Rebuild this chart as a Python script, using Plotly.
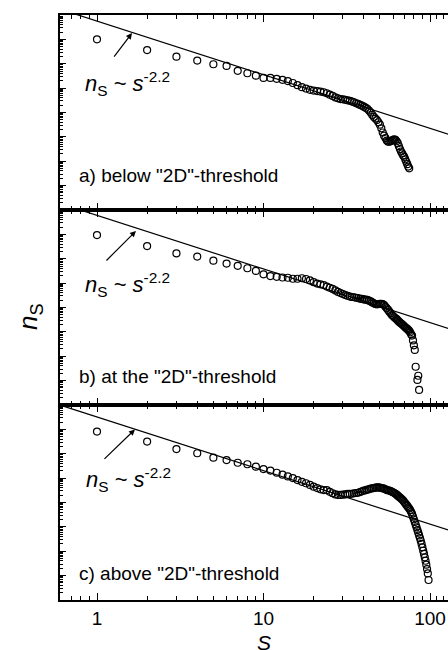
import plotly.graph_objects as go
from plotly.subplots import make_subplots

# ---------------- data (cluster size s, log10 of n_s) ----------------
s_a = [1, 2, 3, 4, 5, 6, 7, 8, 9, 10, 11, 12, 13, 14, 15, 16, 17, 18, 19, 20,
       21, 22, 23, 24, 25, 26, 27, 28, 29, 30, 31, 32, 33, 34, 35, 36, 37, 38, 39, 40,
       41, 42, 43, 44, 45, 46, 47, 48, 49, 50, 51, 52, 53, 54, 55, 56, 57, 58, 59, 60,
       61, 62, 63, 64, 65, 66, 67, 68, 69, 70, 71, 72, 73, 74, 75]
logn_a = [-1.00, -1.44, -1.71, -1.87, -2.02, -2.09, -2.29, -2.39, -2.49, -2.58,
          -2.58, -2.62, -2.66, -2.71, -2.79, -2.88, -2.96, -3.02, -3.07, -3.10,
          -3.12, -3.14, -3.17, -3.21, -3.27, -3.32, -3.38, -3.42, -3.45, -3.46,
          -3.48, -3.50, -3.52, -3.55, -3.58, -3.62, -3.65, -3.69, -3.72, -3.76,
          -3.80, -3.85, -3.92, -4.00, -4.10, -4.18, -4.25, -4.31, -4.40, -4.50,
          -4.65, -4.82, -4.95, -5.05, -5.15, -5.20, -5.20, -5.18, -5.15, -5.12,
          -5.10, -5.12, -5.18, -5.26, -5.38, -5.50, -5.60, -5.68, -5.76, -5.82,
          -5.92, -6.02, -6.12, -6.22, -6.29]

s_b = [1, 2, 3, 4, 5, 6, 7, 8, 9, 10, 11, 12, 13, 14, 15, 16, 17, 18, 19, 20,
       21, 22, 23, 24, 25, 26, 27, 28, 29, 30, 31, 32, 33, 34, 35, 36, 37, 38, 39, 40,
       41, 42, 43, 44, 45, 46, 47, 48, 49, 50, 51, 52, 53, 54, 55, 56, 57, 58, 59, 60,
       61, 62, 63, 64, 65, 66, 67, 68, 69, 70, 71, 72, 73, 74, 75, 76, 77, 78, 79, 80,
       81, 82, 84, 85, 86]
logn_b = [-1.03, -1.48, -1.78, -1.91, -2.08, -2.20, -2.29, -2.39, -2.50, -2.64,
          -2.71, -2.74, -2.77, -2.78, -2.82, -2.82, -2.80, -2.83, -2.89, -2.96,
          -3.02, -3.05, -3.08, -3.14, -3.19, -3.24, -3.30, -3.36, -3.41, -3.45,
          -3.49, -3.52, -3.55, -3.57, -3.58, -3.60, -3.61, -3.64, -3.65, -3.67,
          -3.68, -3.69, -3.72, -3.75, -3.79, -3.83, -3.86, -3.87, -3.86, -3.85,
          -3.85, -3.86, -3.90, -3.97, -4.03, -4.10, -4.17, -4.24, -4.31, -4.35,
          -4.40, -4.44, -4.48, -4.53, -4.58, -4.62, -4.66, -4.69, -4.73, -4.77,
          -4.81, -4.85, -4.88, -4.92, -4.96, -5.02, -5.10, -5.15, -5.35, -5.55,
          -5.74, -6.43, -6.97, -6.80, -7.38]

s_c = [1, 2, 3, 4, 5, 6, 7, 8, 9, 10, 11, 12, 13, 14, 15, 16, 17, 18, 19, 20,
       21, 22, 23, 24, 25, 26, 27, 28, 29, 30, 31, 32, 33, 34, 35, 36, 37, 38, 39, 40,
       41, 42, 43, 44, 45, 46, 47, 48, 49, 50, 51, 52, 53, 54, 55, 56, 57, 58, 59, 60,
       61, 62, 63, 64, 65, 66, 67, 68, 69, 70, 71, 72, 73, 74, 75, 76, 77, 78, 79, 80,
       81, 82, 83, 84, 85, 86, 87, 88, 89, 90, 91, 92, 93, 94, 95, 96, 97, 98]
logn_c = [-1.09, -1.50, -1.81, -1.98, -2.16, -2.26, -2.37, -2.43, -2.53, -2.63,
          -2.69, -2.78, -2.86, -2.93, -3.00, -3.08, -3.15, -3.21, -3.28, -3.35,
          -3.41, -3.46, -3.49, -3.49, -3.56, -3.62, -3.67, -3.69, -3.69, -3.68,
          -3.67, -3.65, -3.65, -3.64, -3.62, -3.61, -3.60, -3.57, -3.54, -3.51,
          -3.50, -3.47, -3.46, -3.43, -3.42, -3.41, -3.39, -3.38, -3.38, -3.39,
          -3.41, -3.42, -3.43, -3.46, -3.49, -3.50, -3.51, -3.53, -3.56, -3.58,
          -3.61, -3.64, -3.68, -3.72, -3.76, -3.80, -3.84, -3.88, -3.92, -3.98,
          -4.03, -4.09, -4.14, -4.20, -4.25, -4.31, -4.39, -4.47, -4.58, -4.69,
          -4.80, -4.91, -5.02, -5.13, -5.24, -5.35, -5.46, -5.57, -5.70, -5.84,
          -5.98, -6.11, -6.25, -6.39, -6.55, -6.73, -6.91, -7.18]

# power-law guide n_s ~ s^-2.2 (log10 prefactor per panel)
fit_exponent = -2.2
fit_logprefactor = [-0.25, -0.22, -0.49]
fit_s_span = [0.5, 150]

panel_labels = ['a) below "2D"-threshold', 'b) at the "2D"-threshold', 'c) above "2D"-threshold']
x_tickvals = [1, 10, 100]
x_ticktext = ["1", "10", "100"]

FONT = "Arial, Liberation Sans, sans-serif"

fig = make_subplots(rows=3, cols=1, shared_xaxes=True, vertical_spacing=0)

series = [(s_a, logn_a), (s_b, logn_b), (s_c, logn_c)]
for i, (sv, lv) in enumerate(series):
    row = i + 1
    fig.add_trace(go.Scatter(
        x=fit_s_span,
        y=[10 ** (fit_logprefactor[i]) * s ** fit_exponent for s in fit_s_span],
        mode="lines", line=dict(color="black", width=1.2),
        showlegend=False, hoverinfo="skip"), row=row, col=1)
    fig.add_trace(go.Scatter(
        x=sv, y=[10 ** v for v in lv], mode="markers",
        marker=dict(symbol="circle-open", size=7, color="black", line=dict(width=1.2)),
        showlegend=False, cliponaxis=True), row=row, col=1)

x_minor = [0.6, 0.7, 0.8, 0.9] + [m for m in range(2, 10)] + [m * 10 for m in range(2, 10)] + [110, 120]
y_major = [10.0 ** e for e in range(-8, 1)]
y_minor = [m * 10.0 ** e for e in range(-8, 0) for m in range(2, 10)]

for i in range(3):
    fig.update_xaxes(
        type="log", range=[-0.2222, 2.108],
        showline=True, linecolor="black", linewidth=2, mirror="ticks",
        ticks="inside", ticklen=7, tickwidth=1.3, tickcolor="black",
        tickmode="array", tickvals=x_tickvals, ticktext=x_ticktext,
        minor=dict(ticks="inside", ticklen=4, tickwidth=1.2, tickcolor="black",
                   tickmode="array", tickvals=x_minor),
        showgrid=False, zeroline=False,
        tickfont=dict(family=FONT, size=19, color="black"),
        row=i + 1, col=1)
    fig.update_yaxes(
        type="log", range=[-8, 0],
        showline=True, linecolor="black", linewidth=2, mirror=False,
        ticks="inside", ticklen=6, tickwidth=1.2, tickcolor="black",
        tickmode="array", tickvals=y_major, showticklabels=False,
        minor=dict(ticks="inside", ticklen=3, tickwidth=1, tickcolor="black",
                   tickmode="array", tickvals=y_minor),
        showgrid=False, zeroline=False,
        row=i + 1, col=1)

# annotations: panel labels, power-law text and arrows
arrow_heads = [(0.21, -0.74), (0.234, -0.86), (0.228, -1.0)]
arrow_tails_px = [(-19, 25), (-31, 31), (-32, 31)]
text_pos = [(-0.084, -2.83), (-0.084, -3.04), (-0.077, -3.04)]
label_pos = [(-0.123, -6.59), (-0.123, -6.84), (-0.123, -6.90)]
for i in range(3):
    xr = "x" if i == 0 else f"x{i+1}"
    yr = "y" if i == 0 else f"y{i+1}"
    hx, hy = arrow_heads[i]
    ax, ay = arrow_tails_px[i]
    fig.add_annotation(x=hx, y=hy, xref=xr, yref=yr, ax=ax, ay=ay,
                       showarrow=True, arrowhead=2, arrowsize=1, arrowwidth=1.2,
                       arrowcolor="black", text="")
    tx, ty = text_pos[i]
    fig.add_annotation(x=tx, y=ty, xref=xr, yref=yr, showarrow=False,
                       xanchor="left", yanchor="middle",
                       text="<i>n</i><sub>S</sub> ~ <i>s</i><sup>-2.2</sup>",
                       font=dict(family=FONT, size=22, color="black"))
    lx, ly = label_pos[i]
    fig.add_annotation(x=lx, y=ly, xref=xr, yref=yr, showarrow=False,
                       xanchor="left", yanchor="middle", text=panel_labels[i],
                       font=dict(family=FONT, size=19, color="black"))

# axis titles
fig.add_annotation(x=1, xref="x3", y=0, yref="paper", yanchor="middle", yshift=-42,
                   showarrow=False, text="<i>S</i>",
                   font=dict(family=FONT, size=21, color="black"))
fig.add_annotation(x=-0.077, xref="paper", y=0.484, yref="paper", textangle=-90,
                   xanchor="center", yanchor="middle", showarrow=False,
                   text="<i>n</i><sub>S</sub>",
                   font=dict(family=FONT, size=26, color="black"))

fig.update_layout(
    width=448, height=650,
    margin=dict(l=60, r=0, t=15, b=50),
    paper_bgcolor="white", plot_bgcolor="white",
    font=dict(family=FONT, color="black"),
    showlegend=False,
)

fig.write_html("out.html", config={"displayModeBar": False},
               post_script="document.body.style.margin='0';document.body.style.overflow='hidden';")
